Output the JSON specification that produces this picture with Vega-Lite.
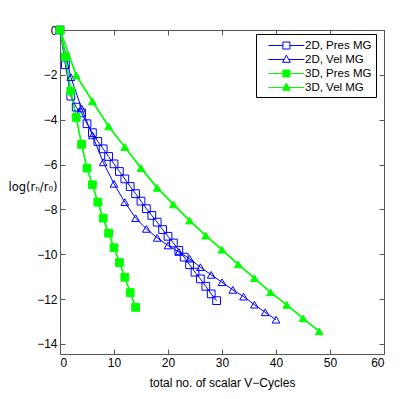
{
  "$schema": "https://vega.github.io/schema/vega-lite/v6.json",
  "width": 324,
  "height": 324,
  "autosize": "none",
  "padding": {"left": 60, "top": 30, "right": 30, "bottom": 45},
  "background": "white",
  "config": {
    "font": "Liberation Sans",
    "view": {"stroke": null},
    "axis": {
      "grid": false,
      "domainColor": "#555",
      "domainWidth": 1,
      "tickColor": "#555",
      "tickSize": -5,
      "labelFontSize": 12,
      "labelColor": "#000",
      "labelFont": "Liberation Sans",
      "titleFont": "Liberation Sans",
      "titleFontSize": 12,
      "titleFontWeight": "normal",
      "titleColor": "#000"
    },
    "legend": {"title": null, "orient": "none", "legendX": 196, "legendY": 4, "strokeColor": "#000", "fillColor": "#fff", "padding": 4, "labelFontSize": 11.5, "labelFont": "Liberation Sans", "labelColor": "#000", "rowPadding": 1, "symbolStrokeWidth": 1, "symbolSize": 196, "labelOffset": 30}
  },
  "data": {
    "values": [
      {"series": "2D, Pres MG", "x": 0, "y": 0},
      {"series": "2D, Pres MG", "x": 1, "y": -1.55},
      {"series": "2D, Pres MG", "x": 2, "y": -2.95},
      {"series": "2D, Pres MG", "x": 3, "y": -3.44},
      {"series": "2D, Pres MG", "x": 4, "y": -3.7},
      {"series": "2D, Pres MG", "x": 5, "y": -4.18},
      {"series": "2D, Pres MG", "x": 6, "y": -4.58},
      {"series": "2D, Pres MG", "x": 7, "y": -4.97},
      {"series": "2D, Pres MG", "x": 8, "y": -5.3},
      {"series": "2D, Pres MG", "x": 9, "y": -5.64},
      {"series": "2D, Pres MG", "x": 10, "y": -5.97},
      {"series": "2D, Pres MG", "x": 11, "y": -6.31},
      {"series": "2D, Pres MG", "x": 12, "y": -6.64},
      {"series": "2D, Pres MG", "x": 13, "y": -6.98},
      {"series": "2D, Pres MG", "x": 14, "y": -7.3},
      {"series": "2D, Pres MG", "x": 15, "y": -7.63},
      {"series": "2D, Pres MG", "x": 16, "y": -7.97},
      {"series": "2D, Pres MG", "x": 17, "y": -8.27},
      {"series": "2D, Pres MG", "x": 18, "y": -8.57},
      {"series": "2D, Pres MG", "x": 19, "y": -8.9},
      {"series": "2D, Pres MG", "x": 20, "y": -9.2},
      {"series": "2D, Pres MG", "x": 21, "y": -9.5},
      {"series": "2D, Pres MG", "x": 22, "y": -9.83},
      {"series": "2D, Pres MG", "x": 23, "y": -10.13},
      {"series": "2D, Pres MG", "x": 24, "y": -10.47},
      {"series": "2D, Pres MG", "x": 25, "y": -10.8},
      {"series": "2D, Pres MG", "x": 26, "y": -11.1},
      {"series": "2D, Pres MG", "x": 27, "y": -11.43},
      {"series": "2D, Pres MG", "x": 28, "y": -11.77},
      {"series": "2D, Pres MG", "x": 29, "y": -12.07},
      {"series": "2D, Vel MG", "x": 0, "y": 0},
      {"series": "2D, Vel MG", "x": 2, "y": -2.1},
      {"series": "2D, Vel MG", "x": 4, "y": -3.5},
      {"series": "2D, Vel MG", "x": 6, "y": -4.7},
      {"series": "2D, Vel MG", "x": 8, "y": -5.9},
      {"series": "2D, Vel MG", "x": 10, "y": -6.86},
      {"series": "2D, Vel MG", "x": 12, "y": -7.68},
      {"series": "2D, Vel MG", "x": 14, "y": -8.39},
      {"series": "2D, Vel MG", "x": 16, "y": -8.87},
      {"series": "2D, Vel MG", "x": 18, "y": -9.27},
      {"series": "2D, Vel MG", "x": 20, "y": -9.61},
      {"series": "2D, Vel MG", "x": 22, "y": -9.9},
      {"series": "2D, Vel MG", "x": 24, "y": -10.2},
      {"series": "2D, Vel MG", "x": 26, "y": -10.58},
      {"series": "2D, Vel MG", "x": 28, "y": -10.92},
      {"series": "2D, Vel MG", "x": 30, "y": -11.25},
      {"series": "2D, Vel MG", "x": 32, "y": -11.59},
      {"series": "2D, Vel MG", "x": 34, "y": -11.89},
      {"series": "2D, Vel MG", "x": 36, "y": -12.25},
      {"series": "2D, Vel MG", "x": 38, "y": -12.59},
      {"series": "2D, Vel MG", "x": 40, "y": -12.92},
      {"series": "3D, Pres MG", "x": 0, "y": 0},
      {"series": "3D, Pres MG", "x": 1, "y": -1.2},
      {"series": "3D, Pres MG", "x": 2, "y": -2.72},
      {"series": "3D, Pres MG", "x": 3, "y": -3.9},
      {"series": "3D, Pres MG", "x": 4, "y": -5.1},
      {"series": "3D, Pres MG", "x": 5, "y": -6.16},
      {"series": "3D, Pres MG", "x": 6, "y": -6.9},
      {"series": "3D, Pres MG", "x": 7, "y": -7.68},
      {"series": "3D, Pres MG", "x": 8, "y": -8.39},
      {"series": "3D, Pres MG", "x": 9, "y": -9.06},
      {"series": "3D, Pres MG", "x": 10, "y": -9.71},
      {"series": "3D, Pres MG", "x": 11, "y": -10.37},
      {"series": "3D, Pres MG", "x": 12, "y": -11.03},
      {"series": "3D, Pres MG", "x": 13, "y": -11.71},
      {"series": "3D, Pres MG", "x": 14, "y": -12.37},
      {"series": "3D, Vel MG", "x": 0, "y": 0},
      {"series": "3D, Vel MG", "x": 3, "y": -2.02},
      {"series": "3D, Vel MG", "x": 6, "y": -3.18},
      {"series": "3D, Vel MG", "x": 9, "y": -4.3},
      {"series": "3D, Vel MG", "x": 12, "y": -5.22},
      {"series": "3D, Vel MG", "x": 15, "y": -6.16},
      {"series": "3D, Vel MG", "x": 18, "y": -7.04},
      {"series": "3D, Vel MG", "x": 21, "y": -7.78},
      {"series": "3D, Vel MG", "x": 24, "y": -8.5},
      {"series": "3D, Vel MG", "x": 27, "y": -9.17},
      {"series": "3D, Vel MG", "x": 30, "y": -9.8},
      {"series": "3D, Vel MG", "x": 33, "y": -10.45},
      {"series": "3D, Vel MG", "x": 36, "y": -11.07},
      {"series": "3D, Vel MG", "x": 39, "y": -11.7},
      {"series": "3D, Vel MG", "x": 42, "y": -12.26},
      {"series": "3D, Vel MG", "x": 45, "y": -12.86},
      {"series": "3D, Vel MG", "x": 48, "y": -13.44}
    ]
  },
  "layer": [
    {
      "mark": {"type": "line"},
      "encoding": {
        "x": {"field": "x", "type": "quantitative", "scale": {"domain": [0, 60], "nice": false},
          "axis": {"orient": "bottom", "values": [0, 10, 20, 30, 40, 50, 60], "labelPadding": 8, "title": "total no. of scalar V−Cycles", "titlePadding": 9}},
        "y": {"field": "y", "type": "quantitative", "scale": {"domain": [-14.45, 0], "nice": false, "zero": false},
          "axis": {"orient": "left", "values": [-14, -12, -10, -8, -6, -4, -2, 0], "labelPadding": 8, "title": "log(rₙ/r₀)", "titleFont": "DejaVu Sans", "titleFontSize": 11.5, "titleAngle": 0, "titleAlign": "right", "titleBaseline": "middle", "titleX": -3, "titleY": 157}},
        "detail": {"field": "series"},
        "stroke": {"field": "series", "type": "nominal", "legend": null,
          "scale": {"domain": ["2D, Pres MG", "2D, Vel MG", "3D, Pres MG", "3D, Vel MG"], "range": ["#0000ff", "#0000ff", "#00ff00", "#00ff00"]}},
        "strokeWidth": {"condition": {"test": "indexof(datum.series, '3D') == 0", "value": 1.7}, "value": 1}
      }
    },
    {
      "mark": {"type": "point", "size": 60, "strokeWidth": 1, "opacity": 1},
      "encoding": {
        "x": {"field": "x", "type": "quantitative", "axis": null},
        "y": {"field": "y", "type": "quantitative", "axis": null},
        "shape": {"field": "series", "type": "nominal", "legend": null,
          "scale": {"domain": ["2D, Pres MG", "2D, Vel MG", "3D, Pres MG", "3D, Vel MG"], "range": ["square", "triangle-up", "square", "triangle-up"]}},
        "stroke": {"field": "series", "type": "nominal", "legend": null,
          "scale": {"domain": ["2D, Pres MG", "2D, Vel MG", "3D, Pres MG", "3D, Vel MG"], "range": ["#0000ff", "#0000ff", "#00ff00", "#00ff00"]}},
        "fill": {"field": "series", "type": "nominal", "legend": null,
          "scale": {"domain": ["2D, Pres MG", "2D, Vel MG", "3D, Pres MG", "3D, Vel MG"], "range": ["transparent", "transparent", "#00ff00", "#00ff00"]}}
      }
    },
    {
      "transform": [{"filter": "false"}],
      "mark": {"type": "point", "size": 196, "strokeWidth": 1, "opacity": 1},
      "encoding": {
        "x": {"field": "x", "type": "quantitative",
          "axis": {"orient": "top", "values": [0, 10, 20, 30, 40, 50, 60], "labels": false, "title": null}},
        "y": {"field": "y", "type": "quantitative",
          "axis": {"orient": "right", "values": [-14, -12, -10, -8, -6, -4, -2, 0], "labels": false, "title": null}},
        "shape": {"field": "series", "type": "nominal",
          "scale": {"domain": ["2D, Pres MG", "2D, Vel MG", "3D, Pres MG", "3D, Vel MG"],
            "range": [
              "M0.13,0H2.2M3.2,0H5.27M2.2,-0.5H3.2V0.5H2.2Z",
              "M0.13,0H2.37M3.03,0H5.27M2.7,-0.62L3.25,0.4L2.15,0.4Z",
              "M0.13,0H5.27M2.2,-0.5H3.2V0.5H2.2Z",
              "M0.13,0H5.27M2.7,-0.62L3.25,0.4L2.15,0.4Z"
            ]}},
        "stroke": {"field": "series", "type": "nominal",
          "scale": {"domain": ["2D, Pres MG", "2D, Vel MG", "3D, Pres MG", "3D, Vel MG"], "range": ["#0000ff", "#0000ff", "#00ff00", "#00ff00"]}},
        "fill": {"field": "series", "type": "nominal",
          "scale": {"domain": ["2D, Pres MG", "2D, Vel MG", "3D, Pres MG", "3D, Vel MG"], "range": ["#ffffff", "#ffffff", "#00ff00", "#00ff00"]}}
      }
    }
  ],
  "resolve": {
    "axis": {"x": "independent", "y": "independent"},
    "scale": {"shape": "independent", "stroke": "independent", "fill": "independent"}
  }
}
